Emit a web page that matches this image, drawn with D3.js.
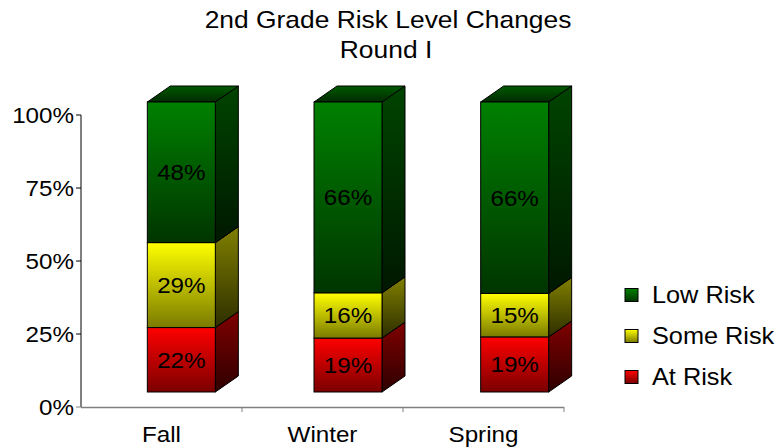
<!DOCTYPE html>
<html>
<head>
<meta charset="utf-8">
<script src="https://cdn.jsdelivr.net/npm/d3@7"></script>
<style>
  body { margin: 0; background: #fff; }
  text { font-family: "Liberation Sans", Arial, sans-serif; fill: #000; }
</style>
</head>
<body>
<div id="chart"></div>
<script>
(function(){
  const width = 781;
  const height = 448;

  // data
  const categories = ["Fall", "Winter", "Spring"];
  const seriesNames = ["At Risk", "Some Risk", "Low Risk"];
  const atRisk = [22, 18.6, 19];
  const someRisk = [29, 15.6, 15];
  const lowRisk = [48, 65.8, 66];
  const yTicks = [0, 0.25, 0.5, 0.75, 1];
  const legendOrder = ["Low Risk", "Some Risk", "At Risk"];

  // light / dark pairs for each series
  const colors = {
    "At Risk":   { front: ["#ff0000", "#7a0000"], side: ["#800000", "#2e0000"], top: ["#900000", "#400000"] },
    "Some Risk": { front: ["#ffff00", "#7a7a00"], side: ["#808000", "#2e2e00"], top: ["#909000", "#404000"] },
    "Low Risk":  { front: ["#008000", "#003500"], side: ["#004400", "#001800"], top: ["#005a00", "#002a00"] }
  };

  const table = categories.map((c, i) => ({
    cat: c, "At Risk": atRisk[i], "Some Risk": someRisk[i], "Low Risk": lowRisk[i]
  }));

  const stacked = d3.stack()
    .keys(seriesNames)
    .offset(d3.stackOffsetExpand)(table);

  const svg = d3.select("#chart")
    .append("svg")
    .attr("width", width)
    .attr("height", height);

  const defs = svg.append("defs");
  seriesNames.forEach((s, si) => {
    ["front", "side", "top"].forEach(part => {
      const g = defs.append("linearGradient")
        .attr("id", "g" + si + part)
        .attr("x1", 0).attr("y1", 0).attr("x2", 0).attr("y2", 1);
      g.append("stop").attr("offset", "0%").attr("stop-color", colors[s][part][0]);
      g.append("stop").attr("offset", "100%").attr("stop-color", colors[s][part][1]);
    });
  });

  // scales
  const yAxisScale = d3.scaleLinear().domain([0, 1]).range([407, 115]);
  const xAxisScale = d3.scaleBand().domain(categories).range([81, 564]);
  const yFront = d3.scaleLinear().domain([0, 1]).range([392, 102]);
  const xBar = d3.scalePoint().domain(categories).range([98, 598]).padding(0.5);
  const barW = 68;
  const dx = 23, dy = -16;
  const sx = 1.1; // text in the original is stretched horizontally

  function addText(parent, x, y, str, size, anchor) {
    return parent.append("text")
      .attr("transform", `translate(${x},${y}) scale(${sx},1)`)
      .attr("text-anchor", anchor || "middle")
      .style("font-size", size + "px")
      .text(str);
  }

  // title
  addText(svg, 388, 28, "2nd Grade Risk Level Changes", 24);
  addText(svg, 386, 58, "Round I", 24);

  // axes
  const yAxis = svg.append("g");
  yAxis.append("line")
    .attr("x1", 81).attr("x2", 81)
    .attr("y1", yAxisScale(1)).attr("y2", yAxisScale(0))
    .attr("stroke", "#000");
  yTicks.forEach(t => {
    yAxis.append("line")
      .attr("x1", 76).attr("x2", 81)
      .attr("y1", yAxisScale(t)).attr("y2", yAxisScale(t))
      .attr("stroke", t === 0 ? "#808080" : "#000");
    addText(yAxis, 74, yAxisScale(t) + 8, d3.format(".0%")(t), 22, "end");
  });

  const xAxis = svg.append("g");
  xAxis.append("line")
    .attr("x1", 81).attr("x2", 564)
    .attr("y1", 407.5).attr("y2", 407.5)
    .attr("stroke", "#808080").attr("stroke-width", 1.5);
  xAxisScale.domain().forEach(c => {
    const xe = xAxisScale(c) + xAxisScale.bandwidth();
    xAxis.append("line")
      .attr("x1", xe).attr("x2", xe)
      .attr("y1", 407).attr("y2", 412)
      .attr("stroke", "#808080");
    addText(xAxis, xAxisScale(c) + xAxisScale.bandwidth() / 2, 442, c, 22);
  });

  // bars: draw bottom segment first so upper ones hide lower tops
  categories.forEach((c, ci) => {
    const x0 = xBar(c) - barW / 2;
    const x1 = x0 + barW;
    stacked.forEach((layer, si) => {
      const d = layer[ci];
      const yb = yFront(d[0]);
      const yt = yFront(d[1]);
      const g = svg.append("g");
      // side
      g.append("path")
        .attr("d", `M${x1},${yt}L${x1 + dx},${yt + dy}L${x1 + dx},${yb + dy}L${x1},${yb}Z`)
        .attr("fill", `url(#g${si}side)`)
        .attr("stroke", "#000").attr("stroke-width", 1);
      // top
      g.append("path")
        .attr("d", `M${x0},${yt}L${x0 + dx},${yt + dy}L${x1 + dx},${yt + dy}L${x1},${yt}Z`)
        .attr("fill", `url(#g${si}top)`)
        .attr("stroke", "#000").attr("stroke-width", 1);
      // front
      g.append("rect")
        .attr("x", x0).attr("y", yt)
        .attr("width", barW).attr("height", yb - yt)
        .attr("fill", `url(#g${si}front)`)
        .attr("stroke", "#000").attr("stroke-width", 1);
    });
  });

  // value labels
  categories.forEach((c, ci) => {
    stacked.forEach(layer => {
      const d = layer[ci];
      const ym = (yFront(d[0]) + yFront(d[1])) / 2;
      addText(svg, xBar(c), ym + 8, d3.format(".0f")(d.data[layer.key]) + "%", 22);
    });
  });

  // legend
  const legend = svg.append("g");
  legendOrder.forEach((s, i) => {
    const si = seriesNames.indexOf(s);
    const cy = 295 + i * 41;
    legend.append("rect")
      .attr("x", 625).attr("y", cy - 6.5)
      .attr("width", 13).attr("height", 13)
      .attr("fill", `url(#g${si}front)`)
      .attr("stroke", "#000").attr("stroke-width", 1);
    addText(legend, 652, cy + 8, s, 23, "start");
  });
})();
</script>
</body>
</html>
